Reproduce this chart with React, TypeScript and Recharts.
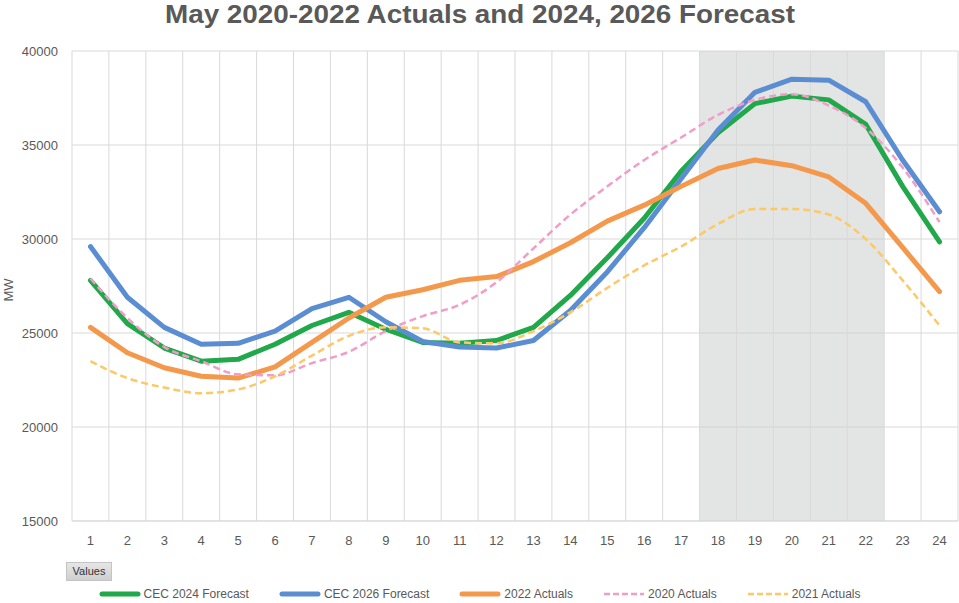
import React from "react";
import { LineChart, Line, XAxis, YAxis, CartesianGrid, ReferenceArea, ReferenceLine, Legend } from "recharts";

const HOURS = [1, 2, 3, 4, 5, 6, 7, 8, 9, 10, 11, 12, 13, 14, 15, 16, 17, 18, 19, 20, 21, 22, 23, 24];
const Y_TICKS = [15000, 20000, 25000, 30000, 35000, 40000];

const CEC_2024 = [27800, 25500, 24200, 23500, 23600, 24400, 25400, 26100, 25200, 24500, 24450, 24600, 25300, 27000, 29000, 31100, 33600, 35650, 37200, 37600, 37400, 36100, 32800, 29850];
const CEC_2026 = [29600, 26900, 25300, 24400, 24450, 25100, 26300, 26900, 25600, 24550, 24250, 24200, 24600, 26200, 28250, 30600, 33200, 35800, 37800, 38500, 38450, 37300, 34200, 31450];
const ACT_2022 = [25300, 23950, 23150, 22700, 22600, 23200, 24500, 25800, 26900, 27300, 27800, 28000, 28800, 29800, 30950, 31800, 32800, 33750, 34200, 33900, 33300, 31900, 29550, 27200];
const ACT_2020 = [27900, 25800, 24250, 23500, 22800, 22750, 23400, 24000, 25100, 25900, 26500, 27700, 29500, 31300, 32800, 34200, 35400, 36600, 37400, 37700, 37100, 35900, 33800, 30900];
const ACT_2021 = [23500, 22600, 22100, 21800, 22000, 22700, 23800, 24850, 25300, 25250, 24500, 24450, 25100, 26100, 27400, 28600, 29600, 30800, 31600, 31600, 31300, 30000, 27800, 25400];

const SERIES_ORDER = ["cec2024", "cec2026", "a2022", "a2020", "a2021"];

// peak hours shaded in the original
const PEAK_START = 18;
const PEAK_END = 22;

const data = HOURS.map((h, i) => ({
    hour: h,
    cec2024: CEC_2024[i],
    cec2026: CEC_2026[i],
    a2022: ACT_2022[i],
    a2020: ACT_2020[i],
    a2021: ACT_2021[i],
}));

// gridlines sit between the categories, like Excel
const BOUNDS = [...HOURS.map(h => h - 0.5), HOURS[HOURS.length - 1] + 0.5];

const FONT = "'Liberation Sans', Arial, sans-serif";
const GRID = "#d9d9d9";
const TEXT = "#595959";

const CustomLegend = ({ payload }: any) => {
    const items = [...(payload || [])].sort(
        (a: any, b: any) => SERIES_ORDER.indexOf(a.dataKey) - SERIES_ORDER.indexOf(b.dataKey)
    );
    return (
        <div style={{ display: "flex", justifyContent: "center", gap: 30, fontFamily: FONT, fontSize: 12, color: TEXT }}>
            {items.map((entry: any, index: number) => {
                const dashed = !!entry.payload.strokeDasharray;
                return (
                    <div key={`legend-${index}`} style={{ display: "flex", alignItems: "center", gap: 3 }}>
                        <svg width={42} height={10}>
                            <line
                                x1={dashed ? 1 : 3}
                                x2={dashed ? 41 : 39}
                                y1={5}
                                y2={5}
                                stroke={entry.color}
                                strokeWidth={dashed ? 2.5 : 5}
                                strokeLinecap={dashed ? "butt" : "round"}
                                strokeDasharray={dashed ? "6 3" : undefined}
                            />
                        </svg>
                        <span>{entry.value}</span>
                    </div>
                );
            })}
        </div>
    );
};

const MwLabel = ({ viewBox }: any) => {
    const x = viewBox.x + 13;
    const y = viewBox.y + viewBox.height / 2 + 4;
    return (
        <text x={x} y={y} transform={`rotate(-90 ${x} ${y})`} textAnchor="middle" fill={TEXT} fontSize={13} fontFamily={FONT}>
            MW
        </text>
    );
};

export default function App() {
    return (
        <div style={{ position: "absolute", left: 0, top: 0, width: 959, height: 603, background: "#fff" }}>
            <svg width={959} height={40} style={{ position: "absolute", left: 0, top: 0 }}>
                <text x={165} y={23} textLength={630} lengthAdjust="spacingAndGlyphs" fontFamily={FONT} fontWeight="bold" fontSize={25} fill={TEXT}>
                    May 2020-2022 Actuals and 2024, 2026 Forecast
                </text>
            </svg>
            <LineChart width={959} height={603} data={data} margin={{ top: 51, right: 1, bottom: 52, left: 0 }}>
                <CartesianGrid vertical={false} stroke={GRID} />
                <ReferenceArea x1={PEAK_START - 0.5} x2={PEAK_END + 0.5} fill="#c8caca" fillOpacity={0.5} stroke="none" />
                {BOUNDS.map(b => (
                    <ReferenceLine key={b} x={b} stroke={GRID} />
                ))}
                <XAxis
                    dataKey="hour"
                    type="number"
                    domain={[0.5, 24.5]}
                    ticks={HOURS}
                    interval={0}
                    height={30}
                    tickLine={false}
                    axisLine={{ stroke: GRID }}
                    tickMargin={9}
                    tick={{ fill: TEXT, fontSize: 13, fontFamily: FONT }}
                />
                <YAxis
                    domain={[15000, 40000]}
                    ticks={Y_TICKS}
                    width={72}
                    tickLine={false}
                    axisLine={false}
                    tickMargin={8}
                    tick={{ fill: TEXT, fontSize: 13, fontFamily: FONT }}
                    label={<MwLabel />}
                />
                <Legend
                    layout="vertical"
                    align="center"
                    verticalAlign="middle"
                    itemSorter={null}
                    content={<CustomLegend />}
                    wrapperStyle={{ top: 587, left: 0, width: 959 }}
                />
                <Line name="CEC 2024 Forecast" dataKey="cec2024" stroke="#21a84a" strokeWidth={5} dot={false} type="linear" strokeLinejoin="round" strokeLinecap="round" isAnimationActive={false} />
                <Line name="CEC 2026 Forecast" dataKey="cec2026" stroke="#5b8dd2" strokeWidth={5} dot={false} type="linear" strokeLinejoin="round" strokeLinecap="round" isAnimationActive={false} />
                <Line name="2022 Actuals" dataKey="a2022" stroke="#f4984c" strokeWidth={5} dot={false} type="linear" strokeLinejoin="round" strokeLinecap="round" isAnimationActive={false} />
                <Line name="2020 Actuals" dataKey="a2020" stroke="#f29cc8" strokeWidth={2.5} strokeDasharray="7 4" dot={false} type="monotone" isAnimationActive={false} />
                <Line name="2021 Actuals" dataKey="a2021" stroke="#fec864" strokeWidth={2.5} strokeDasharray="7 4" dot={false} type="monotone" isAnimationActive={false} />
            </LineChart>
            <div
                style={{
                    position: "absolute",
                    left: 66,
                    top: 562,
                    width: 46,
                    height: 19,
                    boxSizing: "border-box",
                    border: "1px solid #c4c4c4",
                    background: "linear-gradient(#e6e6e6, #cfcfcf)",
                    fontFamily: FONT,
                    fontSize: 11,
                    color: "#333",
                    lineHeight: "17px",
                    textAlign: "center",
                }}
            >
                Values
            </div>
        </div>
    );
}
